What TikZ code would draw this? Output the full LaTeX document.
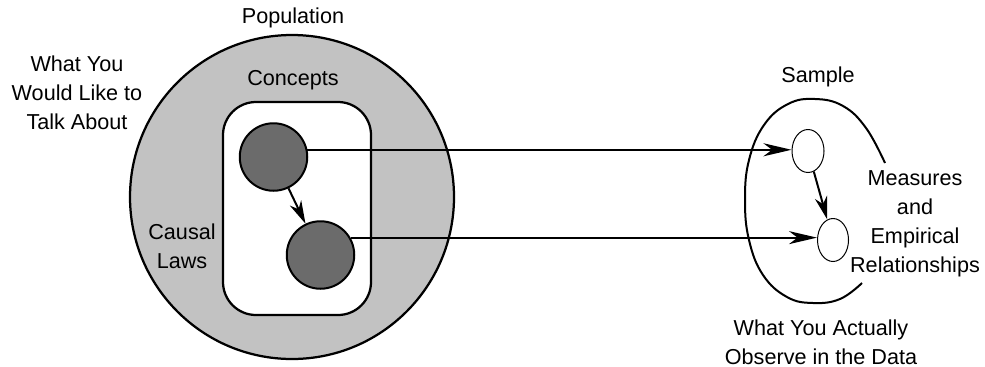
\documentclass[tikz,border=0pt]{standalone}
\usepackage{fontspec}
\setmainfont{Liberation Sans}
\usepackage{xcolor}
\usepackage{tikz}
\usetikzlibrary{arrows.meta,calc,shapes.geometric}

\begin{document}
\begin{tikzpicture}[
      font=\fontsize{12.3}{16.4}\selectfont,
      population/.style={draw=black, line width=0.45mm, fill=black!24},
      concepts/.style={draw=black, line width=0.45mm, fill=white, rounded corners=0.66cm},
      concept/.style={circle, draw=black, line width=0.4mm, fill=black!58, inner sep=0pt, minimum size=1.35cm},
      measure/.style={ellipse, draw=black, line width=0.2mm, fill=white, inner sep=0pt, minimum width=0.64cm, minimum height=0.86cm},
      sample/.style={line width=0.4mm},
      link/.style={line width=0.4mm, -{Stealth[length=5.6mm, width=2.6mm, inset=1.7mm]}},
      cause/.style={line width=0.4mm, -{Stealth[length=4.6mm, width=2.5mm, inset=1.4mm]}},
      label/.style={align=center, inner sep=1pt}
  ]
    \useasboundingbox (0,0) rectangle (19.7,7.32);

    % population side
    \draw[population] (5.84,3.38) circle (3.24cm);
    \draw[concepts] (4.46,1.02) rectangle (7.42,5.28);
    \node[concept] (c1) at (5.47,4.18) {};
    \node[concept] (c2) at (6.41,2.22) {};

    \node[label] (population) at (5.86,6.96) {Population};
    \node[label] (wish) at (1.54,5.46) {What You\\Would Like to\\Talk About};
    \node[label] (concept) at (5.86,5.72) {Concepts};
    \node[label] (laws) at (3.64,2.40) {Causal\\Laws};

    % sample side
    \draw[sample] plot[smooth, tension=0.7] coordinates {
        (17.70,4.06) (17.32,4.76) (16.86,5.20) (16.30,5.34) (15.76,5.24)
        (15.28,4.82) (14.98,4.12) (14.90,3.32) (14.98,2.52) (15.26,1.82)
        (15.74,1.38) (16.26,1.26) (16.80,1.34) (17.24,1.66)};
    \node[measure] (s1) at (16.16,4.30) {};
    \node[measure, minimum width=0.62cm] (s2) at (16.66,2.52) {};

    \node[label] (sample) at (16.36,5.78) {Sample};
    \node[label] (measures) at (18.30,2.84) {Measures\\and\\Empirical\\Relationships};
    \node[label] (observe) at (16.42,0.48) {What You Actually\\Observe in the Data};

    % links
    \draw[cause] (c1) -- (c2);
    \draw[cause] (s1) -- (s2);
    \draw[link] (c1.12) -- (c1.12 -| s1.west);
    \draw[link] (c2.30) -- (c2.30 -| s2.west);
  \end{tikzpicture}
\end{document}
